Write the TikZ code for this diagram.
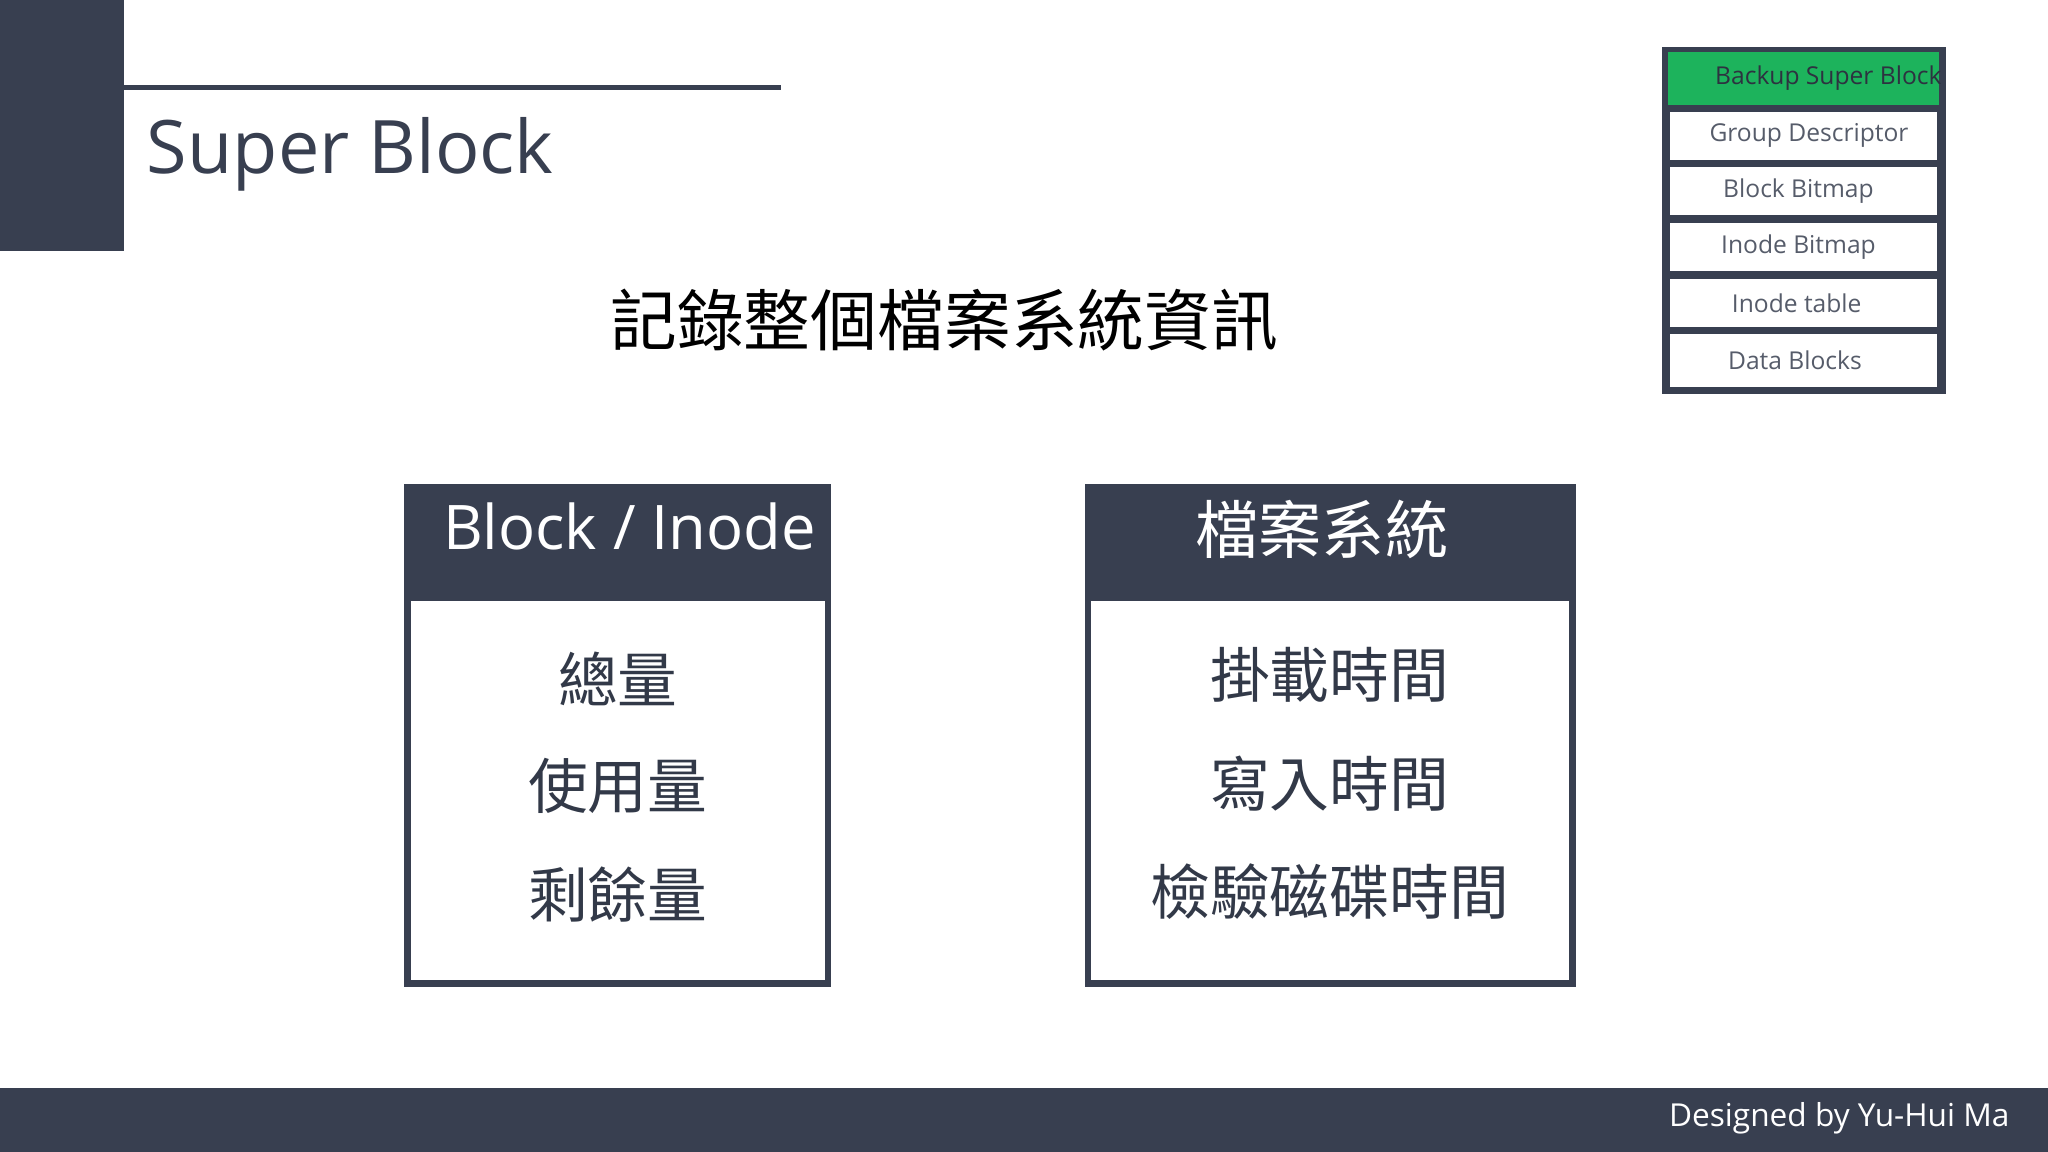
\documentclass[tikz,border=0pt]{standalone}
\usepackage{fontspec}
\setmainfont{Open Sans}
\newfontfamily\cjk{Noto Sans CJK TC}
\definecolor{slate}{HTML}{383F50}
\definecolor{grn}{HTML}{1DB35C}
\begin{document}
\begin{tikzpicture}[x=0.01306cm,y=-0.01306cm,
  stackrow/.style={draw=slate,line width=1.2pt,fill=white,minimum width=77.3pt,minimum height=14.9pt,inner sep=0,font=\fontsize{7}{8}\selectfont,text=slate!85},
  item/.style={font=\cjk\fontsize{17}{20}\selectfont,text=slate!90!black}]
\useasboundingbox (0,0) rectangle (1568,882);
\fill[white] (0,0) rectangle (1568,882);
\fill[slate] (0,0) rectangle (95,192);
\draw[slate,line width=1.3pt] (95,67) -- (598,67);
\node[anchor=base west,inner sep=0,text=slate,font=\fontsize{21}{24}\selectfont] (title) at (112,133) {Super Block};
\node[font=\cjk\fontsize{19}{22}\selectfont,text=black] (sub) at (723,245) {記錄整個檔案系統資訊};
% box 1
\draw[slate,line width=1.8pt,fill=white] (312,373) rectangle (634,753);
\fill[slate] (310,371) rectangle (636,460);
\node[text=white,font=\fontsize{17.5}{20}\selectfont] (h1) at (482,403) {Block / Inode};
\node[item] (a1) at (473,520) {總量};
\node[item] (a2) at (473,602) {使用量};
\node[item] (a3) at (473,685) {剩餘量};
% box 2
\draw[slate,line width=1.8pt,fill=white] (833,373) rectangle (1204,753);
\fill[slate] (831,371) rectangle (1206,460);
\node[text=white,font=\cjk\fontsize{18}{22}\selectfont] (h2) at (1012,405) {檔案系統};
\node[item] (b1) at (1018,517) {掛載時間};
\node[item] (b2) at (1018,600) {寫入時間};
\node[item] (b3) at (1018,683) {檢驗磁碟時間};
% stack
\node[stackrow,fill=grn,text=slate!80!black,minimum height=16.3pt] (s0) at (1381,60) {\hspace*{14pt}Backup Super Block};
\node[stackrow] (s1) at (1381,104) {\hspace*{3pt}Group Descriptor};
\node[stackrow] (s2) at (1381,146) {\hspace*{-3pt}Block Bitmap};
\node[stackrow] (s3) at (1381,189) {\hspace*{-3pt}Inode Bitmap};
\node[stackrow] (s4) at (1381,232) {\hspace*{-4pt}Inode table};
\node[stackrow,minimum height=16.3pt] (s5) at (1381,276) {\hspace*{-5pt}Data Blocks};
\draw[slate,line width=1.4pt] (1274,38) rectangle (1488,300);
% footer
\fill[slate] (0,833) rectangle (1568,882);
\node[anchor=east,text=white,font=\fontsize{9}{11}\selectfont] (foot) at (1548,856) {Designed by Yu-Hui Ma};
\end{tikzpicture}
\end{document}
